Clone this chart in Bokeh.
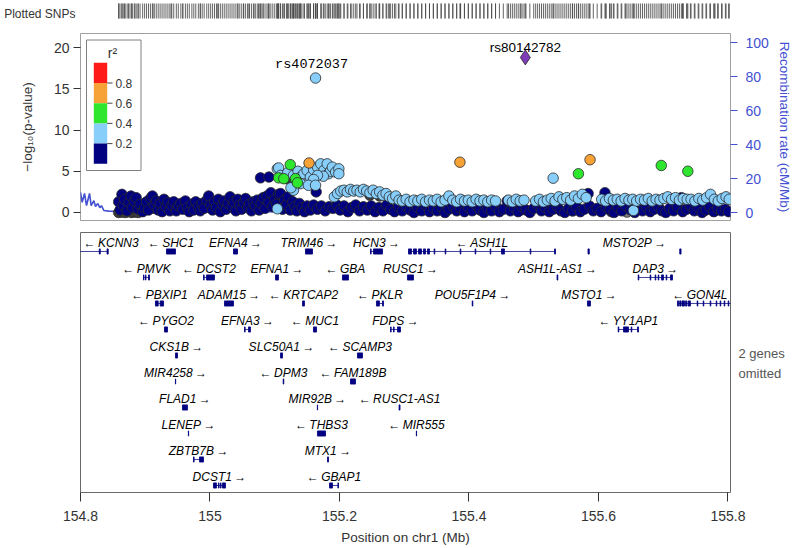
from bokeh.plotting import figure
from bokeh.models import Range1d, LinearAxis, FixedTicker, CustomJSTickFormatter
from bokeh.layouts import column
from bokeh.embed import file_html
from bokeh.resources import INLINE
from bokeh.core.properties import value

# ------------------------------------------------------------------ data
x_ticks = [154.8, 155.0, 155.2, 155.4, 155.6, 155.8]
logp_ticks = [0, 5, 10, 15, 20]
rec_ticks = [0, 20, 40, 60, 80, 100]
r2_labels = ["0.8", "0.6", "0.4", "0.2"]

# (position Mb, -log10 p) per LD class
navy_snps = [(154.859, 1.3), (154.861, 0.3), (154.864, 2.2), (154.866, 0.9), (154.868, 1.6), (154.872, 0.2),
    (154.875, 1.2), (154.878, 2.0), (154.880, 0.6), (154.883, 1.4), (154.886, 1.8), (154.889, 0.4),
    (154.892, 1.0), (154.896, 0.1), (154.899, 0.6), (154.902, 1.3), (154.905, 0.3), (154.908, 1.7),
    (154.911, 2.0), (154.914, 0.9), (154.917, 1.4), (154.920, 0.3), (154.923, 1.1), (154.926, 0.1),
    (154.929, 1.6), (154.932, 0.7), (154.935, 1.2), (154.938, 0.2), (154.941, 0.9), (154.944, 1.3),
    (154.948, 0.2), (154.951, 0.8), (154.955, 1.1), (154.958, 0.4), (154.962, 1.4), (154.965, 0.6),
    (154.968, 0.1), (154.972, 1.0), (154.975, 0.3), (154.978, 1.3), (154.982, 0.7), (154.985, 0.2),
    (154.988, 1.1), (154.991, 0.5), (154.995, 1.5), (154.998, 2.0), (155.001, 0.9), (155.004, 0.3),
    (155.007, 1.3), (155.010, 0.6), (155.013, 1.6), (155.016, 0.1), (155.019, 1.0), (155.022, 1.4),
    (155.025, 0.4), (155.028, 1.1), (155.031, 1.9), (155.034, 0.7), (155.037, 1.3), (155.040, 0.2),
    (155.043, 1.6), (155.046, 0.9), (155.049, 0.4), (155.052, 1.2), (155.055, 1.7), (155.058, 0.6),
    (155.061, 1.0), (155.064, 0.2), (155.067, 1.3), (155.070, 0.8), (155.073, 1.5), (155.076, 0.3),
    (155.078, 4.2), (155.079, 1.1), (155.082, 1.8), (155.085, 0.5), (155.088, 2.0), (155.091, 4.3),
    (155.091, 1.2), (155.094, 2.4), (155.097, 0.7), (155.100, 1.6), (155.103, 1.0), (155.106, 2.2),
    (155.109, 2.3), (155.112, 0.4), (155.115, 1.5), (155.118, 0.9), (155.121, 1.9), (155.124, 0.3),
    (155.128, 1.3), (155.131, 0.7), (155.134, 0.2), (155.138, 1.1), (155.142, 0.6), (155.146, 0.1),
    (155.150, 0.8), (155.155, 0.3), (155.160, 0.9), (155.164, 2.5), (155.166, 0.4), (155.172, 0.8),
    (155.178, 0.2), (155.184, 0.7), (155.190, 0.5), (155.196, 0.9), (155.201, 0.3), (155.207, 0.8),
    (155.213, 0.1), (155.219, 0.6), (155.225, 0.9), (155.231, 0.2), (155.237, 0.7), (155.243, 0.3),
    (155.249, 0.8), (155.255, 0.1), (155.261, 0.6), (155.267, 0.2), (155.273, 0.9), (155.279, 0.4),
    (155.285, 0.1), (155.291, 0.7), (155.297, 0.2), (155.303, 0.8), (155.309, 0.3), (155.315, 0.0),
    (155.321, 0.6), (155.327, 0.2), (155.333, 0.9), (155.339, 0.1), (155.345, 0.5), (155.351, 0.2),
    (155.357, 0.7), (155.363, 0.0), (155.369, 0.4), (155.375, 0.8), (155.381, 0.2), (155.387, 0.5),
    (155.393, 0.1), (155.399, 0.6), (155.405, 0.2), (155.411, 0.9), (155.417, 0.3), (155.423, 0.0),
    (155.429, 0.5), (155.435, 0.2), (155.441, 0.8), (155.447, 0.1), (155.453, 0.4), (155.459, 1.4),
    (155.464, 0.2), (155.470, 0.6), (155.476, 0.1), (155.482, 0.7), (155.488, 0.3), (155.494, 0.0),
    (155.500, 0.5), (155.506, 0.9), (155.512, 0.2), (155.518, 0.6), (155.524, 0.1), (155.530, 0.4),
    (155.536, 0.8), (155.542, 0.2), (155.548, 0.0), (155.554, 0.5), (155.560, 0.2), (155.566, 0.7),
    (155.572, 0.1), (155.578, 0.4), (155.584, 2.3), (155.586, 0.8), (155.592, 0.2), (155.598, 0.5),
    (155.604, 0.1), (155.610, 2.4), (155.612, 0.7), (155.618, 0.3), (155.624, 0.0), (155.630, 0.6),
    (155.636, 0.2), (155.642, 0.8), (155.650, 0.3), (155.656, 0.0), (155.662, 0.5), (155.668, 0.2),
    (155.674, 0.7), (155.680, 0.1), (155.686, 0.4), (155.692, 0.8), (155.698, 0.2), (155.704, 0.0),
    (155.710, 0.5), (155.716, 0.2), (155.722, 0.7), (155.728, 1.8), (155.730, 0.1), (155.736, 0.4),
    (155.742, 0.8), (155.748, 0.2), (155.754, 0.6), (155.760, 0.0), (155.766, 0.3), (155.772, 0.7),
    (155.778, 0.1), (155.784, 0.5), (155.790, 0.2), (155.796, 0.4), (155.801, 0.1)]

lightblue_snps = [(155.104, 5.3), (155.106, 5.4), (155.109, 4.5), (155.120, 4.8), (155.129, 4.5),
    (155.136, 5.0), (155.140, 4.3), (155.145, 4.7), (155.150, 5.1), (155.155, 4.3), (155.160, 5.2),
    (155.166, 5.5), (155.171, 5.9), (155.176, 5.1), (155.181, 5.9), (155.183, 4.7), (155.186, 5.0),
    (155.189, 5.5), (155.194, 4.9), (155.199, 5.3), (155.199, 4.7), (155.175, 4.4), (155.166, 4.5),
    (155.160, 4.0), (155.140, 3.5), (155.129, 2.7), (155.125, 3.0), (155.152, 3.3), (155.163, 3.3),
    (155.104, 0.45), (155.163, 16.3),
    (155.192, 1.9), (155.197, 2.3), (155.202, 2.6), (155.207, 2.7), (155.212, 2.5), (155.217, 2.8),
    (155.222, 2.6), (155.227, 2.7), (155.232, 2.5), (155.237, 2.8), (155.242, 2.6), (155.247, 2.4),
    (155.252, 2.7), (155.257, 2.3), (155.262, 2.5), (155.267, 2.1), (155.272, 2.3), (155.277, 1.9),
    (155.282, 1.7), (155.287, 2.0), (155.292, 1.5),
    (155.297, 1.4), (155.303, 1.6), (155.309, 1.3), (155.315, 1.5), (155.321, 1.4), (155.327, 1.6),
    (155.333, 1.3), (155.339, 1.5), (155.345, 1.4), (155.351, 1.6), (155.357, 1.3), (155.363, 1.5),
    (155.369, 2.0), (155.375, 1.5), (155.381, 1.3), (155.387, 1.6), (155.393, 1.4), (155.399, 1.5),
    (155.405, 1.3), (155.411, 1.6), (155.417, 1.4), (155.423, 1.5), (155.429, 1.3), (155.435, 1.5),
    (155.441, 1.4), (155.461, 1.5), (155.467, 1.3), (155.473, 1.6), (155.479, 1.4), (155.485, 1.5),
    (155.503, 1.4), (155.509, 1.6), (155.515, 1.3), (155.521, 1.5), (155.527, 1.7), (155.530, 4.16),
    (155.533, 1.4), (155.539, 1.9), (155.545, 1.6), (155.551, 1.8), (155.557, 1.5), (155.563, 2.0),
    (155.569, 1.7), (155.575, 2.2), (155.581, 1.8), (155.605, 1.6), (155.611, 1.4), (155.617, 1.7),
    (155.623, 1.5), (155.629, 1.6), (155.635, 1.4), (155.641, 1.7), (155.647, 1.5), (155.653, 1.6),
    (155.654, 0.25), (155.659, 1.4), (155.665, 1.6), (155.671, 1.5), (155.677, 1.7), (155.683, 1.4),
    (155.689, 1.6), (155.695, 1.5), (155.701, 1.7), (155.707, 1.9), (155.713, 1.6), (155.719, 1.8),
    (155.725, 1.5), (155.731, 1.7), (155.737, 1.6), (155.743, 1.6), (155.749, 1.4), (155.755, 1.7),
    (155.761, 1.5), (155.767, 1.8), (155.773, 2.2), (155.779, 1.6), (155.785, 1.4), (155.791, 1.7),
    (155.797, 1.9), (155.802, 1.6)]

green_snps = [(155.124, 5.8), (155.106, 4.2), (155.114, 4.1), (155.132, 4.1), (155.135, 3.6),
    (155.569, 4.7), (155.697, 5.7), (155.738, 5.0)]
orange_snps = [(155.153, 6.0), (155.386, 6.1), (155.587, 6.4)]
grey_snps = [(154.859, 0.0), (154.864, 0.05), (154.869, 0.0), (154.874, 0.1), (154.879, 0.0),
    (154.884, 0.05), (154.889, 0.0), (154.912, 0.5), (154.940, 0.5), (154.958, 0.7), (154.985, 0.8),
    (155.012, 0.9), (155.043, 1.0), (155.052, 1.1), (155.060, 0.9), (155.068, 1.2), (155.075, 1.0),
    (155.082, 1.3), (155.090, 1.1), (155.119, 4.1), (155.127, 4.2), (155.138, 3.9), (155.247, 2.1),
    (155.262, 2.0), (155.276, 1.8), (155.480, 0.3), (155.560, 0.2), (155.620, 0.1), (155.730, 0.3),
    (155.780, 0.2)]
lightgrey_snps = [(155.644, 0.05)]
lead_snp = [(155.487, 18.8)]

labelled_names = ["rs80142782", "rs4072037"]
labelled_pos = [155.487, 155.163]
labelled_logp = [18.8, 16.3]

rec_pos = [154.800, 154.8026, 154.8062, 154.8093, 154.8139, 154.8165, 154.8206, 154.8232, 154.8268,
           154.8298, 154.8324, 154.836, 154.8437, 154.8567, 154.90, 155.00, 155.10, 155.20, 155.30,
           155.40, 155.50, 155.60, 155.70, 155.80]
rec_rate = [11.9, 6.0, 11.2, 4.1, 11.2, 4.0, 7.0, 3.5, 5.3, 2.8, 4.0, 1.2, 0.8, 0.7, 0.5, 0.4, 0.6,
            0.3, 0.5, 0.4, 0.6, 0.3, 0.5, 0.4]

gene_names = ["KCNN3", "SHC1", "EFNA4", "TRIM46", "HCN3", "ASH1L", "MSTO2P",
              "PMVK", "DCST2", "EFNA1", "GBA", "RUSC1", "ASH1L-AS1", "DAP3",
              "PBXIP1", "ADAM15", "KRTCAP2", "PKLR", "POU5F1P4", "MSTO1", "GON4L",
              "PYGO2", "EFNA3", "MUC1", "FDPS", "YY1AP1",
              "CKS1B", "SLC50A1", "SCAMP3",
              "MIR4258", "DPM3", "FAM189B",
              "FLAD1", "MIR92B", "RUSC1-AS1",
              "LENEP", "THBS3", "MIR555",
              "ZBTB7B", "MTX1",
              "DCST1", "GBAP1"]
gene_strand = ["-", "-", "+", "+", "+", "-", "+",
               "-", "-", "+", "-", "+", "+", "+",
               "-", "+", "-", "-", "+", "+", "-",
               "-", "+", "-", "+", "-",
               "+", "+", "-",
               "+", "-", "-",
               "+", "+", "-",
               "+", "-", "-",
               "+", "+",
               "+", "-"]
gene_row = [0] * 7 + [1] * 7 + [2] * 7 + [3] * 5 + [4] * 3 + [5] * 3 + [6] * 3 + [7] * 3 + [8] * 2 + [9] * 2
gene_start = [154.6699, 154.9328, 155.0363, 155.1475, 155.2479, 155.3066, 155.5838,
              154.8973, 154.9900, 155.1012, 155.2046, 155.3050, 155.5360, 155.6613,
              154.9158, 155.0224, 155.1429, 155.2571, 155.4050, 155.5830, 155.7220,
              154.9297, 155.0533, 155.1598, 155.2788, 155.6304,
              154.9467, 155.1089, 155.2278,
              154.9466, 155.1130, 155.2170,
              154.9575, 155.1658, 155.2920,
              154.9666, 155.1660, 155.3187,
              154.9745, 155.1815,
              155.0054, 155.1846]
gene_end = [154.8428, 154.9467, 155.0425, 155.1583, 155.2664, 155.5336, 155.7275,
            154.9066, 155.0069, 155.1058, 155.2139, 155.3143, 155.5372, 155.7143,
            154.9282, 155.0363, 155.1459, 155.2680, 155.4060, 155.5876, 155.8100,
            154.9344, 155.0625, 155.1645, 155.2942, 155.6618,
            154.9498, 155.1120, 155.2355,
            154.9470, 155.1140, 155.2247,
            154.9652, 155.1662, 155.2935,
            154.9670, 155.1784, 155.3191,
            154.9900, 155.1830,
            155.0239, 155.1985]
gene_exons = {
    "KCNN3": [(154.8290, 154.8305), (154.8410, 154.8428)],
    "HCN3": [(155.2479, 155.2489), (155.2525, 155.2664)],
    "ASH1L": [(155.3066, 155.3112), (155.3143, 155.3189), (155.3220, 155.3266), (155.3297, 155.3328),
              (155.3359, 155.3390), (155.3462, 155.3472), (155.3632, 155.3642), (155.3864, 155.3874),
              (155.4095, 155.4105), (155.4327, 155.4337), (155.4502, 155.4548), (155.4945, 155.4955),
              (155.5321, 155.5336)],
    "MSTO2P": [(155.5838, 155.5858), (155.7255, 155.7275)],
    "PMVK": [(154.8973, 154.8980), (154.9004, 154.9011), (154.9050, 154.9066)],
    "DCST2": [(154.9900, 154.9910), (154.9946, 155.0069)],
    "DAP3": [(155.6613, 155.6623), (155.6798, 155.6808), (155.6875, 155.6885), (155.6922, 155.6932),
             (155.6973, 155.7004), (155.7045, 155.7055), (155.7112, 155.7143)],
    "PBXIP1": [(154.9158, 154.9200), (154.9230, 154.9282)],
    "PKLR": [(155.2571, 155.2617), (155.2664, 155.2680)],
    "GON4L": [(155.7220, 155.7240), (155.7255, 155.7275), (155.7290, 155.7330), (155.7345, 155.7365),
              (155.7385, 155.7420), (155.7524, 155.7534), (155.7617, 155.7627), (155.7725, 155.7735),
              (155.7818, 155.7828), (155.7879, 155.7889), (155.7941, 155.7951), (155.8003, 155.8013)],
    "EFNA3": [(155.0533, 155.0543), (155.0595, 155.0625)],
    "FDPS": [(155.2788, 155.2798), (155.2834, 155.2844), (155.2896, 155.2942)],
    "YY1AP1": [(155.6304, 155.6314), (155.6386, 155.6463), (155.6505, 155.6515), (155.6603, 155.6618)],
    "ZBTB7B": [(154.9745, 154.9755), (154.9838, 154.9900)],
    "DCST1": [(155.0054, 155.0100), (155.0130, 155.0140), (155.0161, 155.0171), (155.0193, 155.0239)],
    "GBAP1": [(155.1846, 155.1892), (155.1975, 155.1985)],
}
genes_without_line = ["MSTO2P"]
omitted_note = ["2 genes", "omitted"]
strip_title = "Plotted SNPs"

# ------------------------------------------------------------------ layout / style
XMIN, XMAX = 154.8, 155.8039
W = 800
ML, MR = 80, 70
PXMB = (W - ML - MR) / (XMAX - XMIN)
YBOT, YTOP = -0.97, 21.7
REC_BOT, REC_TOP = -4.7, 105.3
MAIN_FH = 187
PXY = MAIN_FH / (YTOP - YBOT)
ROW_PX = 26.0
GENE_FH = 260

FONT = value("Liberation Sans")
NAVY, LBLUE, GREEN, ORANGE, RED = "#000080", "#87CEFA", "#2EE62E", "#F7A236", "#FF1A1A"
GREY, LGREY, PURPLE = "#3D3D3D", "#7F7F7F", "#7E3CB8"
BLUE = "#4350D2"

def unzip(pairs):
    return [a for a, _ in pairs], [b for _, b in pairs]

def bare_axis(ax):
    ax.axis_line_color = None
    ax.major_tick_line_color = None
    ax.minor_tick_line_color = None
    ax.major_tick_out = 0
    ax.major_tick_in = 0

x_range = Range1d(XMIN, XMAX)

# ---- strip of plotted SNP positions
STRIP_H = 31
strip = figure(width=W, height=STRIP_H, x_range=x_range, y_range=Range1d(0, 1), x_axis_type=None,
               output_backend="svg", toolbar_location=None,
               min_border_left=ML, min_border_right=MR, min_border_top=0, min_border_bottom=0)
strip.outline_line_color = None
strip.ygrid.visible = False
title_y = 1 - 13 / STRIP_H
sa = strip.yaxis[0]
sa.ticker = FixedTicker(ticks=[title_y])
sa.major_label_overrides = {title_y: strip_title}
bare_axis(sa)
sa.major_label_standoff = 5
sa.major_label_text_font = "Liberation Sans"
sa.major_label_text_font_size = "12px"
sa.major_label_text_color = "#333333"
all_pos = []
for grp in (navy_snps, lightblue_snps, green_snps, orange_snps, grey_snps, lightgrey_snps, lead_snp):
    all_pos += [x for x, _ in grp]
n = len(all_pos)
strip.segment(x0=all_pos, y0=[1 - 18 / STRIP_H] * n, x1=all_pos, y1=[1 - 3 / STRIP_H] * n,
              line_color="#4a4a4a", line_width=1, line_alpha=0.85)

# ---- main association panel
p = figure(width=W, height=197, x_range=x_range, y_range=Range1d(YBOT, YTOP),
           x_axis_type=None, output_backend="svg", toolbar_location=None,
           min_border_left=ML, min_border_right=MR, min_border_top=2, min_border_bottom=8)
p.ygrid.visible = False
p.outline_line_color = "#a0a0a0"
p.outline_line_width = 1
p.extra_y_ranges = {"rec": Range1d(REC_BOT, REC_TOP)}

ya = p.yaxis[0]
ya.ticker = FixedTicker(ticks=logp_ticks)
ya.axis_line_color = None
ya.major_tick_in = 0
ya.major_tick_out = 7
ya.major_tick_line_color = "#333333"
ya.minor_tick_line_color = None
ya.major_label_text_font = "Liberation Sans"
ya.major_label_text_font_size = "14px"
ya.major_label_text_color = "#333333"
ya.major_label_standoff = 4
ya.axis_label = "\u2212log\u2081\u2080(p-value)"
ya.axis_label_text_font = "Liberation Sans"
ya.axis_label_text_font_size = "13.5px"
ya.axis_label_text_font_style = "normal"
ya.axis_label_text_color = "#333333"
ya.axis_label_standoff = 16

ra = LinearAxis(y_range_name="rec", ticker=FixedTicker(ticks=rec_ticks))
ra.axis_line_color = None
ra.major_tick_in = 0
ra.major_tick_out = 7
ra.major_tick_line_color = BLUE
ra.minor_tick_line_color = None
ra.major_label_text_font = "Liberation Sans"
ra.major_label_text_font_size = "14px"
ra.major_label_text_color = BLUE
ra.major_label_standoff = 8
ra.axis_label = "Recombination rate (cM/Mb)"
ra.axis_label_text_font = "Liberation Sans"
ra.axis_label_text_font_size = "13.5px"
ra.axis_label_text_font_style = "normal"
ra.axis_label_text_color = BLUE
ra.axis_label_standoff = 5
p.add_layout(ra, "right")

p.line(rec_pos, rec_rate, y_range_name="rec", line_color=BLUE, line_width=1.6)

for grp, col in ((grey_snps, GREY), (lightgrey_snps, LGREY), (navy_snps, NAVY),
                 (lightblue_snps, LBLUE), (green_snps, GREEN), (orange_snps, ORANGE)):
    xs, ys = unzip(grp)
    p.scatter(xs, ys, marker="circle", size=10.5, fill_color=col, line_color="#2a2a2a", line_width=0.8)
lx, ly = unzip(lead_snp)
p.scatter(lx, ly, marker="diamond", size=15, fill_color=PURPLE, line_color="#2a2a2a", line_width=0.8)

p.text(x=[labelled_pos[0]], y=[labelled_logp[0]], text=[labelled_names[0]], text_font=FONT,
       text_font_size="13.5px", text_color="black", text_align="center", text_baseline="middle",
       y_offset=-10)
p.text(x=[labelled_pos[1]], y=[labelled_logp[1]], text=[labelled_names[1]],
       text_font=value("Liberation Mono"), text_font_size="13.5px", text_color="black",
       text_align="center", text_baseline="middle", x_offset=-4, y_offset=-14)

# legend (r^2 colour key) placed in frame pixel offsets
def fx(dx):
    return XMIN + dx / PXMB

def fy(dy):
    return YTOP - dy / PXY

p.quad(left=[fx(6)], right=[fx(60.5)], top=[fy(6.5)], bottom=[fy(137)], fill_color="white",
       line_color="#808080", line_width=1)
seg_cols = [RED, ORANGE, GREEN, LBLUE, NAVY]
seg_h = 101 / 5.0
p.quad(left=[fx(13.3)] * 5, right=[fx(26.7)] * 5, top=[fy(29.3 + seg_h * i) for i in range(5)],
       bottom=[fy(29.3 + seg_h * (i + 1)) for i in range(5)], fill_color=seg_cols,
       line_color=None)
tick_y = [fy(29.3 + seg_h * (i + 1)) for i in range(4)]
p.segment(x0=[fx(26.7)] * 4, y0=tick_y, x1=[fx(32)] * 4, y1=tick_y, line_color="#444444", line_width=1)
p.text(x=[fx(35)] * 4, y=tick_y, text=r2_labels, text_font=FONT, text_font_size="12px",
       text_color="#333333", text_align="left", text_baseline="middle")
p.text(x=[fx(32)], y=[fy(19)], text=["r\u00b2"], text_font=FONT, text_font_size="14px",
       text_color="#333333", text_align="center", text_baseline="middle")

# ---- gene panel
GTOP = 0.73
g = figure(width=W, height=320, x_range=x_range, y_range=Range1d(GTOP - GENE_FH / ROW_PX, GTOP),
           y_axis_type=None, output_backend="svg", toolbar_location=None,
           min_border_left=ML, min_border_right=MR, min_border_top=4, min_border_bottom=56)
g.xgrid.visible = False
g.outline_line_color = "#6a6a6a"
g.outline_line_width = 1
xa = g.xaxis[0]
xa.ticker = FixedTicker(ticks=x_ticks)
xa.formatter = CustomJSTickFormatter(code="return String(Math.round(tick * 10) / 10);")
xa.axis_line_color = None
xa.major_tick_in = 0
xa.major_tick_out = 9
xa.major_tick_line_color = "#333333"
xa.minor_tick_line_color = None
xa.major_label_text_font = "Liberation Sans"
xa.major_label_text_font_size = "14px"
xa.major_label_text_color = "#333333"
xa.major_label_standoff = 9
xa.axis_label = "Position on chr1 (Mb)"
xa.axis_label_text_font = "Liberation Sans"
xa.axis_label_text_font_size = "13.5px"
xa.axis_label_text_font_style = "normal"
xa.axis_label_text_color = "#333333"
xa.axis_label_standoff = 6

note_y = [GTOP - 121 / ROW_PX, GTOP - 141 / ROW_PX]
na = LinearAxis(ticker=FixedTicker(ticks=note_y))
na.major_label_overrides = {note_y[0]: omitted_note[0], note_y[1]: omitted_note[1]}
bare_axis(na)
na.major_label_standoff = 8
na.major_label_text_font = "Liberation Sans"
na.major_label_text_font_size = "13px"
na.major_label_text_color = "#555555"
g.add_layout(na, "right")

ln_x0, ln_x1, ln_y = [], [], []
ex_l, ex_r, ex_t, ex_b = [], [], [], []
lab_x, lab_y, lab_t = [], [], []
for name, strand, row, s, e in zip(gene_names, gene_strand, gene_row, gene_start, gene_end):
    yrow = -row
    if name not in genes_without_line:
        ln_x0.append(s); ln_x1.append(e); ln_y.append(yrow)
    for (a, b) in gene_exons.get(name, [(s, e)]):
        ex_l.append(a); ex_r.append(b); ex_t.append(yrow + 0.1); ex_b.append(yrow - 0.1)
    label = ("\u2190\u2009" + name) if strand == "-" else (name + "\u2009\u2192")
    half = (len(label) * 7.6 / 2 + 4) / PXMB
    mid = min(max((s + e) / 2, XMIN + half), XMAX - half)
    lab_x.append(mid); lab_y.append(yrow + 0.31); lab_t.append(label)

g.segment(x0=ln_x0, y0=ln_y, x1=ln_x1, y1=ln_y, line_color=NAVY, line_width=1, line_alpha=0.75)
g.quad(left=ex_l, right=ex_r, top=ex_t, bottom=ex_b, fill_color=NAVY, line_color=NAVY, line_width=0.8)
g.text(x=lab_x, y=lab_y, text=lab_t, text_font=FONT, text_font_size="12px", text_font_style="italic",
       text_color="black", text_align="center", text_baseline="middle")

layout = column(strip, p, g, spacing=0)
open("out.html", "w").write(file_html(layout, INLINE))
